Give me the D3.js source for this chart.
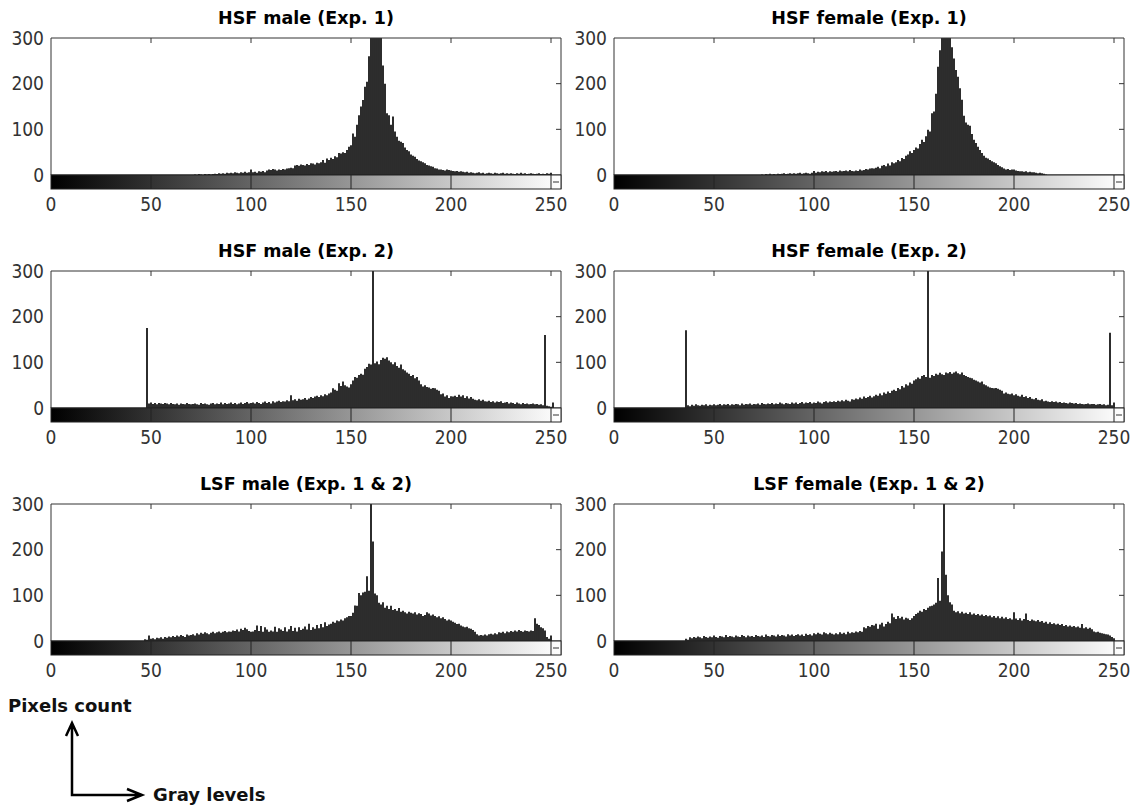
<!DOCTYPE html>
<html>
<head>
<meta charset="utf-8">
<script src="https://cdn.jsdelivr.net/npm/d3@7"></script>
<style>
  body { margin: 0; background: #fff; }
  .tick-label { font-family: "Liberation Sans Narrow", "DejaVu Sans Condensed", sans-serif; font-size: 19px; fill: #333; }
  .title { font-family: "DejaVu Sans", sans-serif; font-weight: bold; font-size: 17.5px; fill: #000; }
  .note { font-family: "DejaVu Sans", sans-serif; font-weight: bold; font-size: 18px; fill: #111; }
</style>
</head>
<body>
<div id="chart"></div>
<script>
// gray-level histograms, counts (bins before *Start are empty)
const panelTitles = [
    "HSF male (Exp. 1)", "HSF female (Exp. 1)",
    "HSF male (Exp. 2)", "HSF female (Exp. 2)",
    "LSF male (Exp. 1 & 2)", "LSF female (Exp. 1 & 2)"
];
const xTicks = [0, 50, 100, 150, 200, 250];
const yTicks = [0, 100, 200, 300];

const hsfMaleExp1Start = 72;
const hsfMaleExp1 = [
    1, 0, 2, 1, 0, 2, 1, 2,
    1, 2, 3, 2, 4, 3, 4, 3, 5, 4,
    5, 4, 6, 5, 4, 6, 5, 7, 5, 6,
    12, 6, 7, 5, 8, 7, 9, 6, 10, 12,
    11, 13, 12, 10, 12, 11, 13, 12, 14, 15,
    16, 15, 21, 22, 20, 23, 22, 21, 24, 22,
    26, 25, 23, 27, 26, 28, 33, 27, 36, 33,
    38, 35, 41, 39, 48, 47, 50, 48, 55, 62,
    65, 91, 84, 110, 131, 150, 164, 193, 204, 260,
    330, 380, 420, 400, 360, 320, 240, 200, 135, 131,
    110, 128, 95, 84, 75, 73, 70, 60, 55, 52,
    45, 42, 40, 35, 32, 30, 28, 26, 22, 21,
    19, 18, 15, 14, 12, 12, 11, 10, 12, 11,
    10, 9, 8, 9, 7, 8, 7, 6, 7, 5,
    6, 5, 4, 5, 6, 4, 5, 3, 4, 5,
    4, 3, 5, 4, 3, 4, 5, 3, 4, 3,
    4, 3, 2, 4, 3, 5, 3, 4, 2, 3,
    4, 3, 2, 3, 4, 2, 3, 2, 4, 3,
    5
];

const hsfFemaleExp1Start = 74;
const hsfFemaleExp1 = [
    1, 0, 2, 1, 3, 1,
    2, 1, 3, 2, 3, 4, 2, 3, 4, 3,
    4, 3, 4, 5, 3, 4, 5, 4, 3, 5,
    9, 5, 7, 6, 8, 7, 9, 6, 8, 7,
    8, 9, 7, 10, 8, 9, 10, 8, 11, 9,
    8, 10, 9, 12, 10, 11, 13, 12, 14, 15,
    14, 16, 18, 15, 20, 22, 19, 25, 21, 28,
    26, 28, 33, 30, 37, 35, 42, 45, 52, 48,
    55, 60, 58, 68, 77, 72, 85, 99, 95, 135,
    139, 178, 237, 273, 320, 360, 400, 350, 300, 280,
    255, 230, 215, 190, 165, 130, 115, 110, 108, 90,
    77, 70, 62, 55, 48, 42, 38, 36, 33, 30,
    28, 26, 22, 19, 17, 14, 12, 13, 11, 12,
    12, 10, 9, 8, 8, 7, 8, 6, 7, 6,
    6, 5, 4, 5, 4, 3, 1
];

const hsfMaleExp2Start = 48;
const hsfMaleExp2 = [
    175, 10, 12,
    9, 11, 8, 11, 10, 9, 11, 10, 8, 11,
    9, 8, 10, 7, 10, 9, 8, 11, 9, 8,
    9, 10, 8, 7, 11, 9, 10, 8, 7, 10,
    11, 8, 10, 9, 12, 8, 11, 9, 10, 12,
    9, 11, 8, 10, 12, 9, 11, 13, 10, 11,
    12, 10, 13, 11, 9, 12, 14, 11, 13, 10,
    15, 12, 14, 16, 13, 15, 14, 17, 15, 28,
    17, 19, 16, 20, 18, 19, 22, 18, 21, 24,
    22, 25, 27, 24, 28, 26, 30, 28, 32, 34,
    43, 40, 38, 54, 48, 58, 50, 47, 45, 52,
    60, 68, 66, 72, 75, 73, 86, 90, 97, 95,
    320, 98, 102, 96, 105, 110, 108, 111, 104, 100,
    96, 100, 92, 88, 95, 85, 82, 78, 75, 70,
    72, 65, 68, 60, 52, 47, 50, 46, 45, 42,
    44, 43, 40, 38, 30, 32, 25, 28, 22, 26,
    25, 27, 24, 29, 25, 28, 22, 26, 21, 24,
    20, 18, 17, 19, 16, 18, 15, 14, 16, 13,
    15, 12, 14, 13, 15, 11, 12, 13, 10, 12,
    11, 9, 12, 10, 8, 11, 9, 10, 8, 9,
    10, 8, 9, 7, 8, 6, 160, 5, 4, 3,
    12
];

const hsfFemaleExp2Start = 36;
const hsfFemaleExp2 = [
    170, 6, 4, 7, 5, 8, 6, 5, 7, 6, 8, 5, 7, 6,
    8, 6, 7, 9, 6, 8, 7, 9, 6, 8,
    7, 9, 8, 6, 10, 7, 9, 8, 10, 7,
    9, 8, 10, 7, 11, 9, 8, 10, 9, 11,
    8, 10, 9, 12, 10, 8, 11, 10, 9, 12,
    10, 12, 9, 11, 13, 10, 12, 11, 13, 10,
    12, 11, 14, 12, 10, 13, 15, 12, 14, 13,
    15, 13, 16, 14, 17, 15, 18, 16, 14, 19,
    18, 21, 19, 23, 20, 25, 22, 24, 27, 23,
    26, 29, 27, 32, 28, 34, 31, 36, 33, 38,
    40, 37, 44, 41, 48, 45, 52, 49, 56, 53,
    60, 63, 67, 64, 70, 72, 68, 310, 66, 72,
    70, 75, 73, 77, 74, 72, 78, 76, 79, 75,
    78, 80, 76, 74, 78, 72, 70, 68, 66, 65,
    62, 60, 58, 56, 58, 52, 50, 47, 45, 44,
    43, 44, 42, 40, 38, 32, 34, 31, 30, 32,
    28, 30, 27, 25, 29, 24, 26, 22, 24, 20,
    19, 22, 18, 17, 19, 15, 16, 14, 13, 15,
    13, 14, 12, 13, 11, 12, 11, 10, 12, 11,
    10, 11, 9, 10, 9, 8, 9, 10, 8, 9,
    9, 7, 8, 9, 7, 8, 6, 7, 165, 6,
    12
];

const lsfMaleStart = 47;
const lsfMale = [
    4, 3, 12,
    5, 6, 4, 7, 6, 8, 5, 9, 7, 10,
    8, 11, 9, 12, 10, 13, 11, 9, 14, 12,
    13, 15, 12, 17, 14, 18, 16, 19, 17, 15,
    18, 20, 17, 19, 21, 18, 20, 22, 19, 21,
    20, 23, 22, 25, 21, 27, 24, 29, 26, 22,
    20, 21, 24, 34, 22, 33, 20, 30, 25, 20,
    23, 21, 31, 20, 28, 25, 22, 30, 21, 26,
    33, 22, 29, 21, 30, 24, 27, 32, 25, 38,
    24, 30, 27, 35, 28, 37, 30, 41, 33, 36,
    38, 42, 40, 45, 43, 47, 45, 50, 52, 55,
    55, 62, 78, 77, 105, 100, 106, 108, 142, 110,
    330, 218, 104, 100, 84, 80, 85, 73, 77, 70,
    77, 68, 70, 66, 72, 64, 66, 63, 60, 64,
    62, 60, 63, 58, 61, 59, 55, 57, 63, 60,
    56, 58, 55, 52, 54, 50, 52, 48, 45, 47,
    45, 42, 40, 37, 38, 34, 32, 30, 31, 28,
    27, 24, 20, 15, 12, 13, 12, 14, 12, 15,
    16, 14, 17, 15, 19, 18, 20, 17, 21, 19,
    22, 20, 23, 21, 24, 22, 20, 23, 22, 21,
    23, 22, 50, 38, 35, 30, 28, 23, 9, 5,
    12
];

const lsfFemaleStart = 36;
const lsfFemale = [
    5, 3, 8, 6, 9, 7, 10, 8, 6, 11, 9, 7, 10, 8,
    12, 9, 7, 11, 10, 8, 13, 9, 11, 10,
    8, 12, 10, 9, 13, 11, 8, 12, 10, 11,
    9, 13, 11, 10, 12, 9, 14, 11, 10, 13,
    12, 10, 14, 11, 13, 12, 10, 15, 12, 14,
    11, 13, 15, 12, 14, 11, 16, 13, 15, 12,
    17, 15, 18, 16, 14, 19, 17, 15, 18, 16,
    14, 17, 15, 19, 16, 18, 15, 20, 17, 19,
    18, 21, 19, 22, 20, 30, 28, 33, 31, 35,
    34, 38, 27, 36, 40, 32, 37, 42, 39, 60,
    52, 48, 55, 50, 53, 47, 51, 49, 46, 50,
    55, 59, 62, 66, 64, 70, 68, 73, 76, 77,
    80, 84, 138, 88, 196, 330, 145, 100, 85, 80,
    66, 63, 65, 61, 64, 60, 62, 59, 63, 58,
    60, 57, 59, 56, 58, 55, 57, 54, 56, 52,
    55, 51, 54, 50, 53, 49, 52, 48, 50, 47,
    63, 49, 46, 50, 45, 48, 60, 46, 44, 47,
    45, 43, 46, 42, 44, 40, 42, 38, 41, 37,
    39, 36, 38, 35, 37, 33, 35, 32, 34, 31,
    33, 30, 32, 29, 37, 28, 30, 27, 29, 26,
    21, 19, 20, 18, 17, 16, 15, 14, 12, 9,
    6
];

const panelData = [
    [hsfMaleExp1Start, hsfMaleExp1], [hsfFemaleExp1Start, hsfFemaleExp1],
    [hsfMaleExp2Start, hsfMaleExp2], [hsfFemaleExp2Start, hsfFemaleExp2],
    [lsfMaleStart, lsfMale], [lsfFemaleStart, lsfFemale]
];

const W = 1133, H = 807;
const colLeft = [51, 614];
const rowTop = [38, 271, 504];
const plotW = 510, plotH = 137, barH = 14;

const svg = d3.select("#chart").append("svg")
    .attr("width", W)
    .attr("height", H);

const x = d3.scaleLinear().domain([0, 255]).range([0, plotW]);
const y = d3.scaleLinear().domain([0, 300]).range([plotH, 0]);

// gray ramp for the colorbar under each histogram
svg.append("defs")
    .append("linearGradient").attr("id", "grayramp")
    .selectAll("stop")
    .data(["#000", "#fff"])
    .enter().append("stop")
    .attr("offset", (_, i) => i)
    .attr("stop-color", d => d);

svg.select("defs").append("clipPath").attr("id", "plotclip")
    .append("rect")
    .attr("width", plotW)
    .attr("height", plotH);

function drawPanel(i) {
    const [start, values] = panelData[i];
    const bins = values.map((v, k) => ({level: start + k, count: v}))
                       .filter(d => d.count > 0);

    const g = svg.append("g")
        .attr("transform", `translate(${colLeft[i % 2]},${rowTop[Math.floor(i / 2)]})`);

    g.append("text")
        .attr("class", "title")
        .attr("x", plotW / 2)
        .attr("y", -14)
        .attr("text-anchor", "middle")
        .text(panelTitles[i]);

    // stems
    g.append("g")
        .attr("clip-path", "url(#plotclip)")
        .selectAll("line")
        .data(bins)
        .enter().append("line")
        .attr("x1", d => x(d.level))
        .attr("x2", d => x(d.level))
        .attr("y1", y(0))
        .attr("y2", d => y(d.count))
        .attr("stroke", "#000")
        .attr("stroke-width", 1.65);

    // frame of the histogram axes
    g.append("path")
        .attr("d", `M0,${plotH}V0H${plotW}V${plotH + barH}`)
        .attr("fill", "none")
        .attr("stroke", "#333");
    g.append("line")
        .attr("x1", 0).attr("x2", plotW)
        .attr("y1", plotH).attr("y2", plotH)
        .attr("stroke", "#222");

    g.selectAll(".ttick")
        .data(xTicks.slice(1))
        .enter().append("line")
        .attr("x1", d => x(d)).attr("x2", d => x(d))
        .attr("y1", 0).attr("y2", 5)
        .attr("stroke", "#333");

    g.selectAll(".rtick")
        .data(yTicks.slice(1, 3))
        .enter().append("line")
        .attr("x1", plotW - 5).attr("x2", plotW)
        .attr("y1", d => y(d)).attr("y2", d => y(d))
        .attr("stroke", "#333");

    g.selectAll(".ylab")
        .data(yTicks)
        .enter().append("text")
        .attr("class", "tick-label")
        .attr("x", -7)
        .attr("y", d => y(d))
        .attr("dy", "0.35em")
        .attr("text-anchor", "end")
        .text(d => d);

    // colorbar
    g.append("rect")
        .attr("x", x(0))
        .attr("y", plotH)
        .attr("width", x(255) - x(0))
        .attr("height", barH)
        .attr("fill", "url(#grayramp)")
        .attr("stroke", "#222");

    g.selectAll(".cbtick")
        .data(xTicks.slice(1))
        .enter().append("line")
        .attr("x1", d => x(d)).attr("x2", d => x(d))
        .attr("y1", plotH).attr("y2", plotH + barH)
        .attr("stroke", "#222");

    g.append("line")
        .attr("x1", x(251)).attr("x2", x(254))
        .attr("y1", plotH + barH / 2).attr("y2", plotH + barH / 2)
        .attr("stroke", "#333");

    g.selectAll(".xlab")
        .data(xTicks)
        .enter().append("text")
        .attr("class", "tick-label")
        .attr("x", d => x(d))
        .attr("y", plotH + barH + 15)
        .attr("dy", "0.35em")
        .attr("text-anchor", "middle")
        .text(d => d);
}

d3.range(6).forEach(drawPanel);

// axis key in the lower left corner
const key = svg.append("g");
key.append("text").attr("class", "note")
    .attr("x", 8).attr("y", 712)
    .text("Pixels count");
key.append("text").attr("class", "note")
    .attr("x", 153).attr("y", 801)
    .text("Gray levels");
key.append("path")
    .attr("d", "M72,724V795H142 M66,736L72,723L78,736 M127,789L142,795L127,801")
    .attr("fill", "none")
    .attr("stroke", "#000")
    .attr("stroke-width", 2.5);
</script>
</body>
</html>
